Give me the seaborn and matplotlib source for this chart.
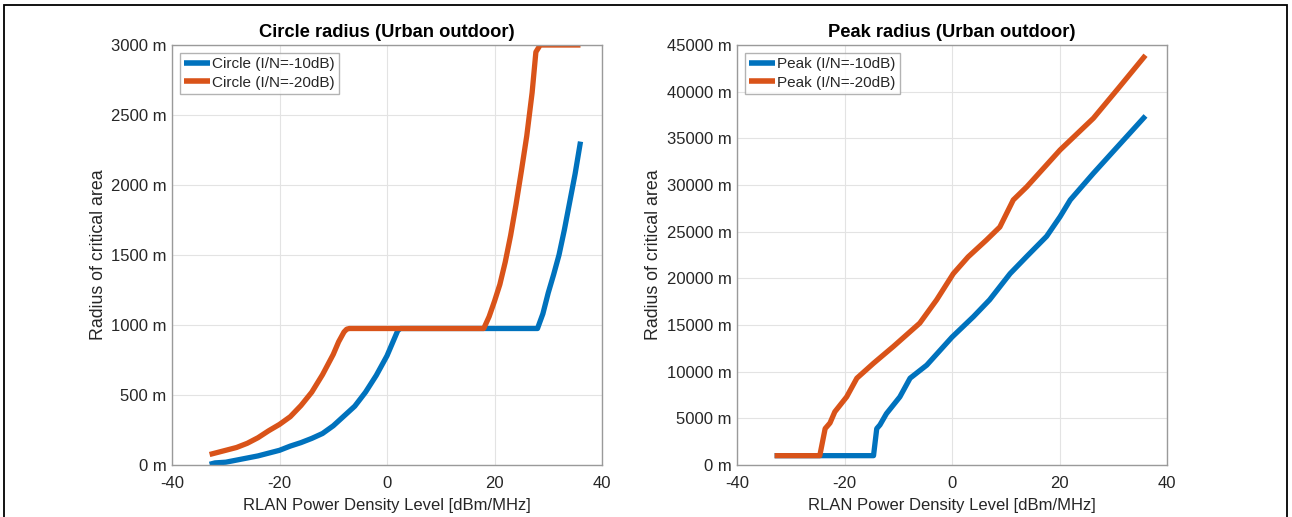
import numpy as np
import pandas as pd
import matplotlib
matplotlib.use("Agg")
import matplotlib.pyplot as plt
import seaborn as sns
from matplotlib.patches import Rectangle
from matplotlib.ticker import FuncFormatter

# ---------------- data ----------------
circle10_x = [-33, -32, -30, -28, -26, -24, -22, -20, -18, -16, -14, -12, -10, -8, -6, -4, -2, 0, 1, 2, 2.5,
              28, 29, 30, 31, 32, 33, 34, 35, 36]
circle10_y = [5, 15, 20, 35, 50, 65, 85, 105, 135, 160, 190, 225, 280, 350, 420, 520, 640, 780, 870, 960, 975,
              975, 1080, 1230, 1360, 1500, 1680, 1880, 2080, 2310]

circle20_x = [-33, -32, -30, -28, -26, -24, -22, -20, -18, -16, -14, -12, -10, -9, -8, -7.5, -7,
              18, 19, 20, 21, 22, 23, 24, 25, 26, 27, 27.7, 28.5, 36]
circle20_y = [75, 85, 105, 125, 155, 195, 245, 290, 345, 425, 520, 645, 790, 880, 950, 970, 975,
              975, 1060, 1170, 1290, 1450, 1640, 1860, 2100, 2350, 2660, 2950, 3000, 3000]

peak10_x = [-33, -14.6, -14, -13.4, -12.2, -9.7, -7.8, -4.7, 0, 4, 7, 10.8, 14, 17.6, 20.1, 22, 26.3, 30, 36]
peak10_y = [1000, 1000, 3900, 4300, 5500, 7300, 9300, 10700, 13700, 15900, 17700, 20500, 22400, 24500,
            26600, 28400, 31250, 33600, 37400]

peak20_x = [-33, -24.6, -23.6, -22.7, -21.8, -19.6, -17.7, -14.6, -10.9, -6, -2.85, 0.24, 3, 6.4, 8.9,
            11.4, 13.9, 20.1, 26.3, 31, 36]
peak20_y = [1000, 1000, 3900, 4500, 5700, 7300, 9300, 10900, 12700, 15200, 17700, 20500, 22300, 24100,
            25500, 28400, 29800, 33750, 37150, 40400, 43900]

x_ticks = [-40, -20, 0, 20, 40]
circle_yticks = [0, 500, 1000, 1500, 2000, 2500, 3000]
peak_yticks = list(range(0, 45001, 5000))

circle_labels = ["Circle (I/N=-10dB)", "Circle (I/N=-20dB)"]
peak_labels = ["Peak (I/N=-10dB)", "Peak (I/N=-20dB)"]

titles = ["Circle radius (Urban outdoor)", "Peak radius (Urban outdoor)"]
xlabel = "RLAN Power Density Level [dBm/MHz]"
ylabel = "Radius of critical area"

# ---------------- styling ----------------
sns.set_theme(style="whitegrid")
plt.rcParams["font.family"] = ["Liberation Sans", "DejaVu Sans"]
plt.rcParams["axes.unicode_minus"] = False

BLUE = "#0072BD"
ORANGE = "#D95319"
TEXT = "#262626"
SPINE = "#9a9a9a"

fig = plt.figure(figsize=(12.92, 5.17), dpi=100)
fig.patch.set_facecolor("white")

# outer black frame
fig.patches.append(Rectangle((4 / 1292, -0.05), (1287 - 4) / 1292, 1 - 5 / 517 + 0.05,
                             transform=fig.transFigure, fill=False, edgecolor="black",
                             linewidth=1.3, zorder=10))

bottom = (517 - 465) / 517
top = (517 - 45) / 517
ax1 = fig.add_axes([172 / 1292, bottom, (602 - 172) / 1292, top - bottom])
ax2 = fig.add_axes([737 / 1292, bottom, (1167 - 737) / 1292, top - bottom])


def make_df(xa, ya, xb, yb, labels):
    d1 = pd.DataFrame({"x": xa, "y": ya, "series": labels[0]})
    d2 = pd.DataFrame({"x": xb, "y": yb, "series": labels[1]})
    return pd.concat([d1, d2], ignore_index=True)


df_c = make_df(circle10_x, circle10_y, circle20_x, circle20_y, circle_labels)
df_p = make_df(peak10_x, peak10_y, peak20_x, peak20_y, peak_labels)

mfmt = FuncFormatter(lambda v, p: f"{int(v)} m")

for ax, df, labels, yt, title in [(ax1, df_c, circle_labels, circle_yticks, titles[0]),
                                  (ax2, df_p, peak_labels, peak_yticks, titles[1])]:
    sns.lineplot(data=df, x="x", y="y", hue="series", hue_order=labels,
                 palette=[BLUE, ORANGE], estimator=None, sort=False,
                 linewidth=3.8, ax=ax, solid_capstyle="butt")
    ax.set_xlim(-40, 40)
    ax.set_ylim(yt[0], yt[-1])
    ax.set_xticks(x_ticks)
    ax.set_yticks(yt)
    ax.yaxis.set_major_formatter(mfmt)
    ax.set_facecolor("white")
    ax.grid(True, color="#e3e3e3", linewidth=0.8)
    for s in ax.spines.values():
        s.set_visible(True)
        s.set_color(SPINE)
        s.set_linewidth(1.0)
    ax.tick_params(axis="both", direction="in", length=3, color=SPINE,
                   labelsize=12, labelcolor=TEXT)
    ax.tick_params(axis="x", pad=8)
    ax.tick_params(axis="y", pad=4)
    ax.set_title(title, fontsize=13.2, fontweight="bold", color="black", pad=6)
    ax.set_xlabel(xlabel, fontsize=12, color=TEXT, labelpad=5)
    ax.set_ylabel(ylabel, fontsize=12.8, color=TEXT, labelpad=3)
    leg = ax.legend(loc="upper left", fontsize=11, frameon=True, fancybox=False,
                    handlelength=1.7, handletextpad=0.1, borderpad=0.3,
                    labelspacing=0.3, borderaxespad=0.5)
    leg.get_frame().set_edgecolor("#a0a0a0")
    leg.get_frame().set_linewidth(1.0)
    for t in leg.get_texts():
        t.set_color(TEXT)
    for h in leg.get_lines():
        h.set_linewidth(4)

fig.savefig("out.png", dpi=100, facecolor="white")
